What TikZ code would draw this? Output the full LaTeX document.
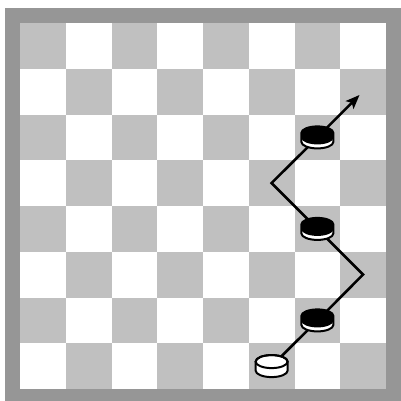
\documentclass[tikz,border=0pt]{standalone}
\usetikzlibrary{arrows.meta}
\definecolor{framegray}{RGB}{150,150,150}
\definecolor{sqgray}{RGB}{192,192,192}
\tikzset{
  frame/.style={fill=framegray},
  darksq/.style={fill=sqgray},
  move/.style={line width=2.5pt,black,line join=miter},
  lastmove/.style={move,-{Stealth[length=14pt,width=11pt,inset=3pt]}},
  whitepiece/.pic={
    \fill[white] (-16pt,4.5pt) -- (-16pt,-4.5pt) arc[start angle=180,end angle=360,x radius=16pt,y radius=6.5pt] -- (16pt,4.5pt) arc[start angle=0,end angle=180,x radius=16pt,y radius=6.5pt] -- cycle;
    \draw[line width=2pt] (-16pt,4.5pt) -- (-16pt,-4.5pt) arc[start angle=180,end angle=360,x radius=16pt,y radius=6.5pt] -- (16pt,4.5pt) arc[start angle=0,end angle=180,x radius=16pt,y radius=6.5pt] -- cycle;
    \draw[line width=2pt] (0pt,4.5pt) ellipse[x radius=16pt,y radius=6.5pt];
  },
  blackpiece/.pic={
    \fill[white] (-16pt,4.5pt) -- (-16pt,-4.5pt) arc[start angle=180,end angle=360,x radius=16pt,y radius=6.5pt] -- (16pt,4.5pt) arc[start angle=0,end angle=180,x radius=16pt,y radius=6.5pt] -- cycle;
    \fill[black] (-16pt,4.5pt) -- (-16pt,-0.5pt) arc[start angle=180,end angle=360,x radius=16pt,y radius=6.5pt] -- (16pt,4.5pt) arc[start angle=0,end angle=180,x radius=16pt,y radius=6.5pt] -- cycle;
    \draw[line width=2pt] (-16pt,4.5pt) -- (-16pt,-4.5pt) arc[start angle=180,end angle=360,x radius=16pt,y radius=6.5pt] -- (16pt,4.5pt) arc[start angle=0,end angle=180,x radius=16pt,y radius=6.5pt] -- cycle;
  }
}
\begin{document}
\begin{tikzpicture}[x=1pt,y=-1pt]
\useasboundingbox (0,0) rectangle (401,401);
\fill[frame] (5,8) rectangle (401,401);
\fill[white] (20,23) rectangle (386,389);
\foreach \c in {0,...,7}{
  \foreach \r in {0,...,7}{
    \pgfmathtruncatemacro\pty{mod(\c+\r,2)}
    \ifnum\pty=0
      \fill[darksq] ({20+45.75*\c},{23+45.75*\r}) rectangle ++(45.75,45.75);
    \fi
  }
}
% move points
\coordinate (w) at (271.6,366.1);
\coordinate (b1) at (317.4,320.4);
\coordinate (t1) at (363.1,274.6);
\coordinate (b2) at (317.4,228.9);
\coordinate (t2) at (271.6,183.1);
\coordinate (b3) at (317.4,137.4);
\coordinate (e) at (359.5,95);
\draw[move] (w) -- (b1) -- (t1) -- (b2) -- (t2) -- (b3);
\draw[lastmove] (b3) -- (e);
\pic at (w) {whitepiece};
\pic at (b1) {blackpiece};
\pic at (b2) {blackpiece};
\pic at (b3) {blackpiece};
\end{tikzpicture}
\end{document}
